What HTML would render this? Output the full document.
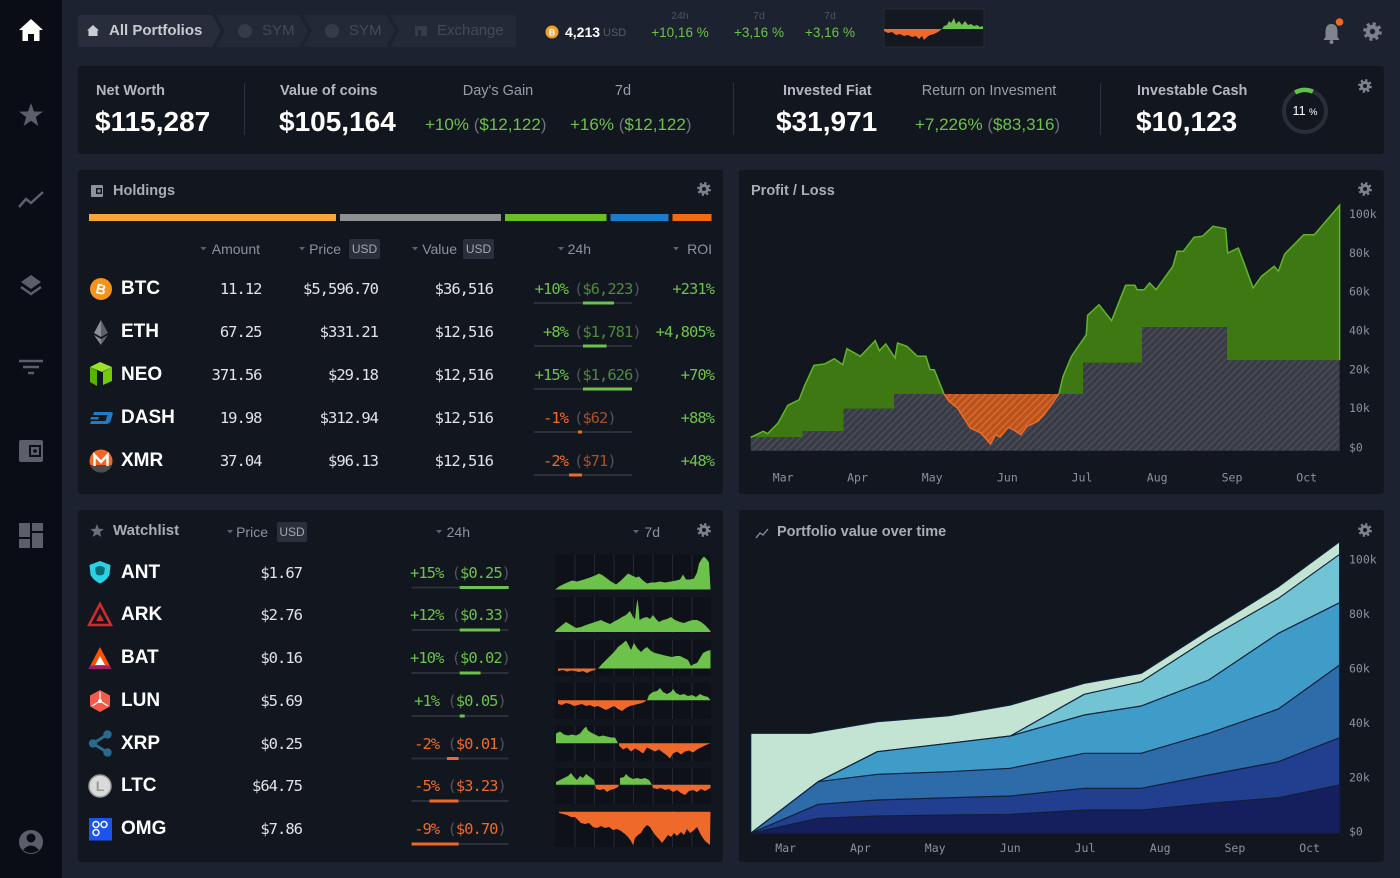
<!DOCTYPE html>
<html><head><meta charset="utf-8">
<style>
*{margin:0;padding:0;box-sizing:border-box}
html,body{width:1400px;height:878px;overflow:hidden;background:#1d2231}
body{position:relative;font-family:"Liberation Sans",sans-serif;color:#fff}
.a{position:absolute;white-space:nowrap}
.pn{position:absolute;background:#12161f;border-radius:3px}
.m{font-family:"DejaVu Sans Mono",monospace;font-size:15.5px;letter-spacing:-1px;line-height:20px;color:#e2e3e7}
.l{font-size:14px;color:#8d919b;line-height:18px}
.tk{font-size:19px;font-weight:bold;line-height:24px;color:#fff}
.h{font-size:14.5px;font-weight:bold;line-height:20px;color:#a9adb5}
.g{color:#6cc24a}.o{color:#ef6a2a}
.gd{color:#4f8a3c}.od{color:#a8502a}.pr{color:#4e525c}.pl{color:#6b6f79}
.big{font-size:28px;font-weight:bold;line-height:32px;color:#fff}
.nl{font-size:14.5px;font-weight:bold;line-height:20px;color:#b4b7bf}
.nr{font-size:14.5px;line-height:20px;color:#9a9ea6}
.nv{font-size:17px;line-height:22px}
.badge{position:absolute;background:#2b2f3b;border-radius:2px;color:#a3a7af;font-size:12px;line-height:20px;text-align:center;height:20px}
.r{text-align:right}.c{text-align:center}
</style></head><body>

<div class="a" style="left:0;top:0;width:62px;height:878px;background:#0a0d15"></div>
<div class="pn" style="left:78px;top:66px;width:1306px;height:88px"></div>
<div class="pn" style="left:78px;top:170px;width:645px;height:324px"></div>
<div class="pn" style="left:739px;top:170px;width:645px;height:324px"></div>
<div class="pn" style="left:78px;top:510px;width:645px;height:352px"></div>
<div class="pn" style="left:739px;top:510px;width:645px;height:352px"></div>

<svg class="a" style="left:0;top:0" width="1400" height="878" viewBox="0 0 1400 878">
<defs>
<pattern id="hg" width="5" height="5" patternUnits="userSpaceOnUse" patternTransform="rotate(45)">
<rect width="5" height="5" fill="#383b45"/><rect width="1.6" height="5" fill="#4a4d57"/></pattern>
<pattern id="ho" width="5" height="5" patternUnits="userSpaceOnUse" patternTransform="rotate(45)">
<rect width="5" height="5" fill="#b9521d"/><rect width="1.6" height="5" fill="#d8692c"/></pattern>
<g id="gear"><circle r="5.3" fill="none" stroke="#7d818b" stroke-width="3.2" stroke-dasharray="2.08 2.08"/><circle r="5" fill="#7d818b"/></g>
</defs>

<!-- sidebar icons -->
<path d="M31 19 L43 30 L39.5 30 L39.5 41 L34 41 L34 34 L28 34 L28 41 L22.5 41 L22.5 30 L19 30 Z" fill="#fff"/>
<polygon points="31,103 34,111.5 43,111.6 35.8,117 38.4,126 31,120.7 23.6,126 26.2,117 19,111.6 28,111.5" fill="#5b5f69"/>
<polyline points="19,207 26,199 31,203 43,192" fill="none" stroke="#5b5f69" stroke-width="2.5"/>
<polygon points="31,275 41,282 31,289 21,282" fill="#5b5f69"/>
<polyline points="21,287 31,294 41,287" fill="none" stroke="#5b5f69" stroke-width="2.5"/>
<line x1="19" y1="361" x2="43" y2="361" stroke="#5b5f69" stroke-width="2.5"/>
<line x1="23" y1="367" x2="39" y2="367" stroke="#5b5f69" stroke-width="2.5"/>
<line x1="28" y1="373" x2="34" y2="373" stroke="#5b5f69" stroke-width="2.5"/>
<rect x="19" y="440" width="24" height="22" rx="2" fill="#5b5f69"/>
<rect x="29" y="445" width="12" height="12" fill="#0a0d15"/><rect x="31" y="447" width="8" height="8" fill="#5b5f69"/><circle cx="35" cy="451" r="1.8" fill="#0a0d15"/>
<rect x="19" y="523" width="11" height="14" fill="#5b5f69"/><rect x="19" y="539" width="11" height="9" fill="#5b5f69"/>
<rect x="32" y="523" width="11" height="8" fill="#5b5f69"/><rect x="32" y="533" width="11" height="15" fill="#5b5f69"/>
<circle cx="31" cy="842" r="12" fill="#5b5f69"/><circle cx="31" cy="838" r="4.5" fill="#0a0d15"/>
<path d="M23 850 Q31 841 39 850 Q31 856 23 850 Z" fill="#0a0d15"/>

<!-- breadcrumb -->
<path d="M81 15 L212 15 L221 31 L212 47 L81 47 Q78 47 78 44 L78 18 Q78 15 81 15 Z" fill="#282d3b"/>
<path d="M216 15 L299 15 L308 31 L299 47 L216 47 L225 31 Z" fill="#242937"/>
<path d="M303 15 L386 15 L395 31 L386 47 L303 47 L312 31 Z" fill="#242937"/>
<path d="M390 15 L513 15 Q516 15 516 18 L516 44 Q516 47 513 47 L390 47 L399 31 Z" fill="#242937"/>
<path d="M93 25 L99 30.5 L97.5 30.5 L97.5 36 L88.5 36 L88.5 30.5 L87 30.5 Z" fill="#c8cbd2"/>
<circle cx="245" cy="31" r="7" fill="#363b48"/>
<circle cx="332" cy="31" r="7" fill="#363b48"/>
<rect x="415" y="26" width="12" height="10" fill="#363b48"/><rect x="418" y="30" width="3" height="6" fill="#242937"/>
<!-- btc small -->
<circle cx="552" cy="32" r="6.5" fill="#f0a030"/>
<text x="552" y="35.5" font-size="9" font-weight="bold" fill="#fff" text-anchor="middle" font-family="Liberation Sans">B</text>
<!-- top sparkline -->
<g transform="translate(884,9)">
<rect width="100" height="38" fill="#141821" stroke="#252a36"/>
<path d="M0,20 L0,22 L4,24 L8,23 L12,26 L16,25 L20,27 L24,26 L28,28 L32,27 L35,30 L38,27 L40,31 L43,28 L46,26 L50,25 L54,23 L58,20 Z" fill="#ef6a2a"/>
<path d="M58,20 L60,17 L63,16 L65,12 L67,14 L70,9 L72,15 L75,12 L78,16 L81,12 L84,16 L87,15 L90,17 L93,16 L96,18 L99,17 L99,20 Z" fill="#6cc24a"/>
</g>
<!-- bell & gear -->
<path d="M1331.5,24 C1326.5,24 1325.5,28 1325.5,32 L1325.5,37 L1323.5,40 L1339.5,40 L1337.5,37 L1337.5,32 C1337.5,28 1336.5,24 1331.5,24 Z" fill="#80848e"/>
<circle cx="1331.5" cy="42" r="2" fill="#80848e"/>
<circle cx="1339.5" cy="22" r="3.8" fill="#f26822"/>
<g transform="translate(1372.5,31.5) scale(1.35)"><use href="#gear"/><circle r="2" fill="#1d2231"/></g>

<!-- net worth panel -->
<rect x="244" y="83" width="1" height="52" fill="#2c313d"/>
<rect x="733" y="83" width="1" height="52" fill="#2c313d"/>
<rect x="1100" y="83" width="1" height="52" fill="#2c313d"/>
<circle cx="1305" cy="111" r="21" fill="none" stroke="#2a2e38" stroke-width="4"/>
<path d="M1295.1,92.5 A21,21 0 0 1 1312.9,91.5" fill="none" stroke="#5fc24a" stroke-width="4.5"/>
<g transform="translate(1365,86)"><use href="#gear"/><circle r="2" fill="#12161f"/></g>

<!-- holdings -->
<rect x="91" y="185" width="12" height="12" rx="1" fill="#8d919b"/><rect x="96" y="188" width="6" height="6" fill="#12161f"/><rect x="97.5" y="189.5" width="3" height="3" fill="#8d919b"/>
<g transform="translate(704,189)"><use href="#gear"/><circle r="2" fill="#12161f"/></g>
<rect x="89" y="214" width="247" height="7" fill="#f7a535"/>
<rect x="340" y="214" width="161" height="7" fill="#8e8f93"/>
<rect x="505" y="214" width="101.5" height="7" fill="#6cbf25"/>
<rect x="610.5" y="214" width="58" height="7" fill="#1a7ccb"/>
<rect x="672.5" y="214" width="39" height="7" fill="#f36a12"/>
<g fill="#5d616b">
<polygon points="200.5,247 206.5,247 203.5,250.5"/>
<polygon points="299,247 305,247 302,250.5"/>
<polygon points="412,247 418,247 415,250.5"/>
<polygon points="558,247 564,247 561,250.5"/>
<polygon points="673,247 679,247 676,250.5"/>
<polygon points="227,530 233,530 230,533.5"/>
<polygon points="436,530 442,530 439,533.5"/>
<polygon points="633,530 639,530 636,533.5"/>
</g>
<!-- holdings underlines -->
<g fill="#2b2f3a">
<rect x="534" y="302" width="98" height="2"/><rect x="534" y="345" width="98" height="2"/>
<rect x="534" y="388" width="98" height="2"/><rect x="534" y="431" width="98" height="2"/>
<rect x="534" y="474" width="98" height="2"/>
</g>
<rect x="583" y="301.5" width="31" height="3" fill="#6cc24a"/>
<rect x="583" y="344.5" width="23.5" height="3" fill="#6cc24a"/>
<rect x="583" y="387.5" width="49" height="3" fill="#6cc24a"/>
<rect x="578" y="430.5" width="4" height="3" fill="#ef6a2a"/>
<rect x="569" y="473.5" width="13" height="3" fill="#ef6a2a"/>
<!-- holdings coin icons -->
<circle cx="101" cy="289" r="11" fill="#f7931a"/>
<text x="101" y="294" font-size="14" font-weight="bold" fill="#fff" text-anchor="middle" font-family="Liberation Sans" transform="rotate(12 101 289)">B</text>
<polygon points="101,320 108,333 101,337" fill="#5f6167"/><polygon points="101,320 94,333 101,337" fill="#8b8e95"/>
<polygon points="94,335 101,339 101,345" fill="#8b8e95"/><polygon points="108,335 101,339 101,345" fill="#5f6167"/>
<polygon points="90,367 100,362 112,367 102,372" fill="#9be22d"/>
<polygon points="90,367 97,370.5 97,386 90,382" fill="#58b300"/>
<polygon points="103,372 112,367 112,381 103,385" fill="#72cc0a"/>
<path d="M94,412 L111,412 Q113.5,412 112.5,415 L110.5,421 Q109.5,424 106,424 L90,424 L91,421 L105.5,421 L107.5,415 L93,415 Z" fill="#1d7bc8"/>
<polygon points="91,417 99,417 98.2,419.5 90.2,419.5" fill="#1d7bc8"/>
<circle cx="101" cy="461" r="11.5" fill="#f26822"/>
<path d="M90.2,465 L111.8,465 A11.5,11.5 0 0 1 90.2,465 Z" fill="#4d4d4d"/>
<polyline points="94.5,466 94.5,455 101,462 107.5,455 107.5,466" fill="none" stroke="#fff" stroke-width="2.4"/>

<!-- profit/loss -->
<g transform="translate(1365,189)"><use href="#gear"/><circle r="2" fill="#12161f"/></g>
<path d="M750.7,450.7 L750.7,437.3 L802.6,437.3 L802.6,431.3 L843.5,431.3 L843.5,408.7 L894.2,408.7 L894.2,394 L1083,394 L1083,362.7 L1142,362.7 L1142,327 L1226.9,327 L1226.9,360.3 L1339.6,360.3 L1339.6,450.7 Z" fill="url(#hg)"/>
<path d="M750.7,437.3 L763.3,431.3 L767.6,433.7 L778.1,423 L787.8,405.3 L799.2,399.7 L804.3,386.3 L814,365.3 L824.5,364 L834.3,358.7 L842.7,364.7 L846.9,348.7 L860.4,356.3 L875.2,340.7 L879.4,350.7 L885.8,344 L895,358 L897.6,343 L906.9,346.3 L917.4,356.3 L925.9,356.3 L930.1,369.7 L934.3,369.7 L944,394 L894.2,394 L894.2,408.7 L843.5,408.7 L843.5,431.3 L802.6,431.3 L802.6,437.3 Z" fill="#3d7813"/>
<polyline points="750.7,437.3 763.3,431.3 767.6,433.7 778.1,423 787.8,405.3 799.2,399.7 804.3,386.3 814,365.3 824.5,364 834.3,358.7 842.7,364.7 846.9,348.7 860.4,356.3 875.2,340.7 879.4,350.7 885.8,344 895,358 897.6,343 906.9,346.3 917.4,356.3 925.9,356.3 930.1,369.7 934.3,369.7 944,394" fill="none" stroke="#62b52a" stroke-width="1.5"/>
<path d="M944,394 L949.1,401.3 L957.5,408 L970.2,428 L980.8,433 L990.5,444 L995.5,434.7 L1000,437 L1008.2,427.3 L1014,430 L1020.9,434.7 L1027.2,426.3 L1037.8,421.3 L1044.1,414.7 L1058.9,394 Z" fill="url(#ho)"/>
<polyline points="944,394 949.1,401.3 957.5,408 970.2,428 980.8,433 990.5,444 995.5,434.7 1000,437 1008.2,427.3 1014,430 1020.9,434.7 1027.2,426.3 1037.8,421.3 1044.1,414.7 1058.9,394" fill="none" stroke="#ee6b28" stroke-width="1.5"/>
<path d="M1058.9,394 L1063.1,376.3 L1071.5,356.3 L1086.3,334.7 L1087.6,315.3 L1099,304.7 L1111.6,320.7 L1125.6,285.3 L1134.9,285.3 L1137,289.7 L1144.1,289.7 L1149.6,283 L1156,289.7 L1164.4,278 L1172.9,266.3 L1177.1,251.3 L1183.4,251.3 L1194,237.3 L1202.4,236.3 L1213,226.3 L1225.6,228.7 L1227.7,253 L1238.3,248 L1244.6,264.7 L1253.1,288 L1261.5,276.3 L1274.2,266.3 L1278.4,271.3 L1284.7,254 L1303.7,234.7 L1314.3,234.7 L1339.6,205.3 L1339.6,360.3 L1226.9,360.3 L1226.9,327 L1142,327 L1142,362.7 L1083,362.7 L1083,394 Z" fill="#3d7813"/>
<polyline points="1058.9,394 1063.1,376.3 1071.5,356.3 1086.3,334.7 1087.6,315.3 1099,304.7 1111.6,320.7 1125.6,285.3 1134.9,285.3 1137,289.7 1144.1,289.7 1149.6,283 1156,289.7 1164.4,278 1172.9,266.3 1177.1,251.3 1183.4,251.3 1194,237.3 1202.4,236.3 1213,226.3 1225.6,228.7 1227.7,253 1238.3,248 1244.6,264.7 1253.1,288 1261.5,276.3 1274.2,266.3 1278.4,271.3 1284.7,254 1303.7,234.7 1314.3,234.7 1339.6,205.3 1339.6,360.3" fill="none" stroke="#62b52a" stroke-width="1.5"/>
<g font-family="DejaVu Sans Mono" font-size="11.5" fill="#8d919b">
<text x="1349" y="218">100k</text><text x="1349" y="257">80k</text><text x="1349" y="295.7">60k</text>
<text x="1349" y="334.7">40k</text><text x="1349" y="373.7">20k</text><text x="1349" y="412">10k</text><text x="1349" y="451.3">$0</text>
<g text-anchor="middle">
<text x="783.2" y="481.5">Mar</text><text x="857.5" y="481.5">Apr</text><text x="932.2" y="481.5">May</text><text x="1007.4" y="481.5">Jun</text>
<text x="1082" y="481.5">Jul</text><text x="1157.2" y="481.5">Aug</text><text x="1232" y="481.5">Sep</text><text x="1306.7" y="481.5">Oct</text>
</g>
<text x="1349" y="563.3">100k</text><text x="1349" y="618">80k</text><text x="1349" y="672.7">60k</text>
<text x="1349" y="727">40k</text><text x="1349" y="781.7">20k</text><text x="1349" y="835.7">$0</text>
<g text-anchor="middle">
<text x="785.7" y="852">Mar</text><text x="860.4" y="852">Apr</text><text x="935.2" y="852">May</text><text x="1010.3" y="852">Jun</text>
<text x="1085" y="852">Jul</text><text x="1160.2" y="852">Aug</text><text x="1234.9" y="852">Sep</text><text x="1309.6" y="852">Oct</text>
</g>
</g>

<!-- watchlist -->
<polygon points="97,524 98.8,528.8 103.8,529 99.9,532.1 101.3,537 97,534.2 92.7,537 94.1,532.1 90.2,529 95.2,528.8" fill="#6b6f79"/>
<g transform="translate(704,530)"><use href="#gear"/><circle r="2" fill="#12161f"/></g>
<g fill="#2b2f3a">
<rect x="411.6" y="586.5" width="97" height="2"/><rect x="411.6" y="629" width="97" height="2"/>
<rect x="411.6" y="672" width="97" height="2"/><rect x="411.6" y="715" width="97" height="2"/>
<rect x="411.6" y="757.5" width="97" height="2"/><rect x="411.6" y="800" width="97" height="2"/>
<rect x="411.6" y="843" width="97" height="2"/>
</g>
<rect x="459.7" y="586" width="49" height="3" fill="#6cc24a"/>
<rect x="459.7" y="628.5" width="40.3" height="3" fill="#6cc24a"/>
<rect x="459.7" y="671.5" width="20.8" height="3" fill="#6cc24a"/>
<rect x="459.7" y="714.5" width="5" height="3" fill="#6cc24a"/>
<rect x="447" y="757" width="11.5" height="3" fill="#ef6a2a"/>
<rect x="429.5" y="799.5" width="29" height="3" fill="#ef6a2a"/>
<rect x="411.6" y="842.5" width="47" height="3" fill="#ef6a2a"/>
<!-- watchlist icons -->
<path d="M100,561 L110.5,565 L109.5,575 Q106,581 100,583.5 Q94,581 90.5,575 L89.5,565 Z" fill="#29d2e4"/>
<path d="M95,568 Q100,564 105,568 L104,574 Q100,577 96,574 Z" fill="#0f6a78"/>
<polygon points="100,604 111,625 89,625" fill="none" stroke="#d32a2f" stroke-width="2.5"/>
<polygon points="100,614 104,621 96,621" fill="#d32a2f"/>
<polygon points="100,647 111.5,669 88.5,669" fill="#ff5000"/>
<polygon points="88.5,669 111.5,669 109.8,665.5 90.2,665.5" fill="#9e1f63"/>
<polygon points="100,656 105,665 95,665" fill="#fff"/>
<polygon points="100,690 110,695.5 110,706.5 100,712 90,706.5 90,695.5" fill="#f55b4b"/>
<g stroke="#fff" stroke-width="1.2" fill="none"><line x1="100" y1="701" x2="100" y2="692"/><line x1="100" y1="701" x2="92" y2="706"/><line x1="100" y1="701" x2="108" y2="706"/></g>
<circle cx="100" cy="701" r="2" fill="#fff"/>
<g fill="#2b6a8c"><circle cx="107.5" cy="734.5" r="4.2"/><circle cx="93" cy="743.5" r="4.2"/><circle cx="107.5" cy="752.5" r="4.2"/></g>
<g stroke="#2b6a8c" stroke-width="3"><line x1="107.5" y1="734.5" x2="93" y2="743.5"/><line x1="93" y1="743.5" x2="107.5" y2="752.5"/></g>
<circle cx="100" cy="786" r="11" fill="#dadada" stroke="#9a9a9a" stroke-width="1.5"/>
<text x="100" y="791" font-size="14" font-weight="bold" fill="#9a9a9a" text-anchor="middle" font-family="Liberation Sans">L</text>
<rect x="89" y="818" width="23" height="22.5" fill="#1a53f0"/>
<g fill="none" stroke="#fff" stroke-width="1.5"><circle cx="96" cy="824.5" r="3"/><circle cx="104" cy="824.5" r="3"/><circle cx="96" cy="832.5" r="3"/></g>

<!-- watchlist sparklines -->
<g id="sgrid">
</g>
<g transform="translate(555,554.5)">
<rect width="156" height="36" fill="#0e1118"/><g stroke="#242833"><line x1="20" y1="0" x2="20" y2="36"/><line x1="39.5" y1="0" x2="39.5" y2="36"/><line x1="59" y1="0" x2="59" y2="36"/><line x1="78.5" y1="0" x2="78.5" y2="36"/><line x1="98" y1="0" x2="98" y2="36"/><line x1="117.5" y1="0" x2="117.5" y2="36"/><line x1="137" y1="0" x2="137" y2="36"/></g>
<path d="M0,35 L4,32 L10,29 L17,26 L22,27 L29,25 L35,23 L40,21 L44,19 L48,21 L52,24 L56,27 L61,30 L66,26 L70,22 L73,19 L77,21 L81,23 L84,22 L88,26 L92,29 L96,28 L100,28 L105,27 L110,28 L116,27 L121,26 L125,25 L128,20 L131,25 L135,25 L139,24 L142,18 L144,9 L147,4 L149,2 L152,5 L154,8 L155.5,34 L155.5,35 Z" fill="#6cc24a"/>
</g>
<g transform="translate(555,597)">
<rect width="156" height="36" fill="#0e1118"/><g stroke="#242833"><line x1="20" y1="0" x2="20" y2="36"/><line x1="39.5" y1="0" x2="39.5" y2="36"/><line x1="59" y1="0" x2="59" y2="36"/><line x1="78.5" y1="0" x2="78.5" y2="36"/><line x1="98" y1="0" x2="98" y2="36"/><line x1="117.5" y1="0" x2="117.5" y2="36"/><line x1="137" y1="0" x2="137" y2="36"/></g>
<path d="M0,35 L1,33 L6,29 L11,25 L16,28 L21,31 L26,30 L31,28 L34,27 L40,25 L46,23 L50,25 L55,27 L60,24 L64,22 L67,20 L71,18 L75,14 L78,20 L80,22 L81.5,8 L82.5,2 L83.5,10 L84.6,23 L88,21 L92,20 L95,22 L98,18 L101,22 L104,25 L108,23 L112,22 L116,20 L120,23 L125,25 L129,26 L134,24 L138,23 L142,23 L146,25 L150,28 L155.5,34 L155.5,35 Z" fill="#6cc24a"/>
</g>
<g transform="translate(555,640)">
<rect width="156" height="36" fill="#0e1118"/><g stroke="#242833"><line x1="20" y1="0" x2="20" y2="36"/><line x1="39.5" y1="0" x2="39.5" y2="36"/><line x1="59" y1="0" x2="59" y2="36"/><line x1="78.5" y1="0" x2="78.5" y2="36"/><line x1="98" y1="0" x2="98" y2="36"/><line x1="117.5" y1="0" x2="117.5" y2="36"/><line x1="137" y1="0" x2="137" y2="36"/></g>
<path d="M3,28.5 L3,31 L8,30 L12,31.5 L16,30.5 L20,31 L24,32 L28,31 L32,33 L36,31 L40,30 L41,28.5 Z" fill="#ef6a2a"/>
<path d="M43,28.5 L47,24 L51,20 L55,16 L59,12 L63,7 L67,4 L71,0.5 L74,6 L76,10 L79,3 L82,8 L86,12 L89,9 L92,7 L96,11 L100,13 L104,14 L108,15 L112,16 L117,17 L121,16 L125,16 L129,18 L133,20 L136,26 L139,24 L142,23 L145,18 L148,13 L152,11 L155.5,10 L155.5,28.5 Z" fill="#6cc24a"/>
</g>
<g transform="translate(555,683)">
<rect width="156" height="36" fill="#0e1118"/><g stroke="#242833"><line x1="20" y1="0" x2="20" y2="36"/><line x1="39.5" y1="0" x2="39.5" y2="36"/><line x1="59" y1="0" x2="59" y2="36"/><line x1="78.5" y1="0" x2="78.5" y2="36"/><line x1="98" y1="0" x2="98" y2="36"/><line x1="117.5" y1="0" x2="117.5" y2="36"/><line x1="137" y1="0" x2="137" y2="36"/></g>
<path d="M3,17.3 L3,21 L7,22 L11,20 L15,21 L19,23 L23,22 L27,21 L31,23 L35,22 L39,24 L43,23 L47,25 L51,27 L55,25 L59,23 L63,26 L67,28 L71,25 L75,23 L79,22 L83,21 L87,20 L91,18 L91,17.3 Z" fill="#ef6a2a"/>
<path d="M92,17.3 L94,12 L98,9 L102,8 L105,5 L108,9 L112,11 L116,9 L118,6 L121,10 L125,12 L129,11 L133,13 L137,12 L141,14 L145,11 L149,13 L153,14 L155.5,17.3 Z" fill="#6cc24a"/>
</g>
<g transform="translate(555,725.5)">
<rect width="156" height="36" fill="#0e1118"/><g stroke="#242833"><line x1="20" y1="0" x2="20" y2="36"/><line x1="39.5" y1="0" x2="39.5" y2="36"/><line x1="59" y1="0" x2="59" y2="36"/><line x1="78.5" y1="0" x2="78.5" y2="36"/><line x1="98" y1="0" x2="98" y2="36"/><line x1="117.5" y1="0" x2="117.5" y2="36"/><line x1="137" y1="0" x2="137" y2="36"/></g>
<path d="M1,17.7 L1,8 L5,6 L9,9 L13,10 L17,9 L21,10 L25,8 L29,3 L31,1 L33,5 L36,7 L40,9 L44,11 L48,10 L52,11 L56,12 L60,12 L63,17.7 Z" fill="#6cc24a"/>
<path d="M64,17.7 L64,20 L68,24 L72,22 L76,26 L80,23 L84,25 L88,28 L92,22 L96,24 L100,26 L104,24 L108,27 L112,30 L115,33 L118,28 L122,26 L126,29 L130,26 L134,25 L138,27 L142,24 L146,22 L150,20 L155.5,17.7 Z" fill="#ef6a2a"/>
</g>
<g transform="translate(555,768)">
<rect width="156" height="36" fill="#0e1118"/><g stroke="#242833"><line x1="20" y1="0" x2="20" y2="36"/><line x1="39.5" y1="0" x2="39.5" y2="36"/><line x1="59" y1="0" x2="59" y2="36"/><line x1="78.5" y1="0" x2="78.5" y2="36"/><line x1="98" y1="0" x2="98" y2="36"/><line x1="117.5" y1="0" x2="117.5" y2="36"/><line x1="137" y1="0" x2="137" y2="36"/></g>
<path d="M1,16.7 L1,14 L5,12 L9,10 L13,8 L16,5 L19,9 L22,12 L25,8 L28,10 L31,6 L35,9 L39,12 L40,16.7 Z" fill="#6cc24a"/>
<path d="M40,16.7 L41,21 L45,22 L49,21 L52,24 L55,22 L59,21 L63,19 L64,16.7 Z" fill="#ef6a2a"/>
<path d="M65,16.7 L65,10 L69,9 L71,6 L74,9 L78,11 L82,10 L86,11 L90,10 L94,12 L97,16.7 Z" fill="#6cc24a"/>
<path d="M97,16.7 L98,20 L102,21 L106,20 L110,22 L114,21 L118,24 L122,22 L126,25 L130,27 L134,23 L138,22 L142,24 L146,21 L150,23 L155.5,20 L155.5,16.7 Z" fill="#ef6a2a"/>
</g>
<g transform="translate(555,811)">
<rect width="156" height="36" fill="#0e1118"/><g stroke="#242833"><line x1="20" y1="0" x2="20" y2="36"/><line x1="39.5" y1="0" x2="39.5" y2="36"/><line x1="59" y1="0" x2="59" y2="36"/><line x1="78.5" y1="0" x2="78.5" y2="36"/><line x1="98" y1="0" x2="98" y2="36"/><line x1="117.5" y1="0" x2="117.5" y2="36"/><line x1="137" y1="0" x2="137" y2="36"/></g>
<path d="M4,0.7 L4,2 L8,3 L12,4 L16,6 L20,6 L23,9 L26,12 L30,13 L34,12 L38,16 L42,17 L46,15 L50,17 L54,16 L58,19 L62,18 L66,20 L70,23 L73,26 L76,30 L78,34 L80,27 L83,24 L86,22 L89,17 L92,14 L95,16 L98,21 L101,25 L104,28 L107,32 L110,28 L113,24 L116,26 L119,22 L122,25 L126,21 L129,24 L132,18 L135,22 L138,20 L142,16 L146,24 L150,30 L155,34 L155.5,0.7 Z" fill="#ef6a2a"/>
</g>

<!-- portfolio chart -->
<polyline points="756,538 760,533 763,535 768,529" fill="none" stroke="#8d919b" stroke-width="1.3"/>
<g transform="translate(1365,530)"><use href="#gear"/><circle r="2" fill="#12161f"/></g>
<g stroke="#10203a" stroke-width="1.2" stroke-linejoin="round">
<path d="M750.7,833.3 L750.7,733.3 L809.8,733.3 L877.3,721.7 L949.1,715.7 L1010.3,705 L1084.2,683.3 L1141.2,673.3 L1208.7,630 L1278.4,586.7 L1339.6,541.7 L1339.6,833.3 Z" fill="#c3e3d3"/>
<path d="M750.7,833.3 L818.2,781.7 L877.3,751.7 L949.1,743.3 L1010.3,736 L1084.2,694.3 L1141.2,681.7 L1208.7,638.3 L1278.4,598.3 L1339.6,554.3 L1339.6,833.3 Z" fill="#72c4d4"/>
<path d="M750.7,833.3 L818.2,781.7 L877.3,751.7 L949.1,743.3 L1010.3,736 L1084.2,715 L1141.2,706 L1208.7,680 L1278.4,633.3 L1339.6,602.7 L1339.6,833.3 Z" fill="#3f9cc8"/>
<path d="M750.7,833.3 L818.2,781.7 L877.3,774.3 L949.1,771.7 L1010.3,768.3 L1084.2,753.3 L1141.2,753.3 L1208.7,733.3 L1278.4,709 L1339.6,665 L1339.6,833.3 Z" fill="#2e6ba9"/>
<path d="M750.7,833.3 L818.2,804.3 L877.3,800 L949.1,797.7 L1010.3,796 L1084.2,788.3 L1141.2,788.3 L1208.7,775 L1278.4,761.7 L1339.6,737.7 L1339.6,833.3 Z" fill="#223e8e"/>
<path d="M750.7,833.3 L818.2,818.3 L877.3,816 L949.1,815 L1010.3,814.3 L1084.2,810 L1141.2,810 L1208.7,803.3 L1278.4,797.7 L1339.6,785 L1339.6,833.3 Z" fill="#161f5e"/>
</g>
</svg>

<!-- top bar text -->
<div class="a" style="left:109px;top:21px;font-size:15px;font-weight:bold;line-height:20px;color:#c8cbd2">All Portfolios</div>
<div class="a" style="left:262px;top:21px;font-size:15px;line-height:20px;color:#444957">SYM</div>
<div class="a" style="left:349px;top:21px;font-size:15px;line-height:20px;color:#444957">SYM</div>
<div class="a" style="left:437px;top:21px;font-size:15px;line-height:20px;color:#444957">Exchange</div>
<div class="a" style="left:565px;top:23px;font-size:14px;font-weight:bold;line-height:18px;color:#fff">4,213</div>
<div class="a" style="left:603px;top:26px;font-size:11px;line-height:14px;color:#555a67">USD</div>
<div class="a c" style="left:640px;width:80px;top:9px;font-size:10.5px;line-height:14px;color:#4e5361">24h</div>
<div class="a c g" style="left:640px;width:80px;top:24px;font-size:13.5px;line-height:18px">+10,16 %</div>
<div class="a c" style="left:719px;width:80px;top:9px;font-size:10.5px;line-height:14px;color:#4e5361">7d</div>
<div class="a c g" style="left:719px;width:80px;top:24px;font-size:13.5px;line-height:18px">+3,16 %</div>
<div class="a c" style="left:790px;width:80px;top:9px;font-size:10.5px;line-height:14px;color:#4e5361">7d</div>
<div class="a c g" style="left:790px;width:80px;top:24px;font-size:13.5px;line-height:18px">+3,16 %</div>

<!-- net worth panel text -->
<div class="a nl" style="left:96px;top:81px">Net Worth</div>
<div class="a big" style="left:95px;top:106px">$115,287</div>
<div class="a nl" style="left:280px;top:81px">Value of coins</div>
<div class="a big" style="left:279px;top:106px">$105,164</div>
<div class="a nr c" style="left:438px;width:120px;top:81px">Day's Gain</div>
<div class="a nv" style="left:425px;top:114px"><span class="g">+10%</span> <span class="pl">(</span><span class="g">$12,122</span><span class="pl">)</span></div>
<div class="a nr c" style="left:583px;width:80px;top:81px">7d</div>
<div class="a nv" style="left:570px;top:114px"><span class="g">+16%</span> <span class="pl">(</span><span class="g">$12,122</span><span class="pl">)</span></div>
<div class="a nl" style="left:783px;top:81px">Invested Fiat</div>
<div class="a big" style="left:776px;top:106px">$31,971</div>
<div class="a nr c" style="left:909px;width:160px;top:81px">Return on Invesment</div>
<div class="a nv" style="left:915px;top:114px"><span class="g">+7,226%</span> <span class="pl">(</span><span class="g">$83,316</span><span class="pl">)</span></div>
<div class="a nl" style="left:1137px;top:81px">Investable Cash</div>
<div class="a big" style="left:1136px;top:106px">$10,123</div>
<div class="a c" style="left:1285px;width:40px;top:103px;font-size:12.5px;line-height:16px;color:#fff">11 <span style="font-size:9.5px">%</span></div>

<!-- holdings text -->
<div class="a h" style="left:113px;top:181px">Holdings</div>
<div class="a l r" style="left:160px;width:100px;top:240px">Amount</div>
<div class="a l r" style="left:241px;width:100px;top:240px">Price</div>
<div class="badge" style="left:349px;top:239px;width:31px">USD</div>
<div class="a l r" style="left:357px;width:100px;top:240px">Value</div>
<div class="badge" style="left:463px;top:239px;width:31px">USD</div>
<div class="a l r" style="left:491px;width:100px;top:240px">24h</div>
<div class="a l r" style="left:612px;width:100px;top:240px">ROI</div>

<div class="a tk" style="left:121px;top:277px">BTC</div>
<div class="a tk" style="left:121px;top:320px">ETH</div>
<div class="a tk" style="left:121px;top:363px">NEO</div>
<div class="a tk" style="left:121px;top:406px">DASH</div>
<div class="a tk" style="left:121px;top:449px">XMR</div>

<div class="a m r" style="left:160px;width:101.5px;top:279px">11.12</div>
<div class="a m r" style="left:160px;width:101.5px;top:322px">67.25</div>
<div class="a m r" style="left:160px;width:101.5px;top:365px">371.56</div>
<div class="a m r" style="left:160px;width:101.5px;top:408px">19.98</div>
<div class="a m r" style="left:160px;width:101.5px;top:451px">37.04</div>

<div class="a m r" style="left:258px;width:120px;top:279px">$5,596.70</div>
<div class="a m r" style="left:258px;width:120px;top:322px">$331.21</div>
<div class="a m r" style="left:258px;width:120px;top:365px">$29.18</div>
<div class="a m r" style="left:258px;width:120px;top:408px">$312.94</div>
<div class="a m r" style="left:258px;width:120px;top:451px">$96.13</div>

<div class="a m r" style="left:373px;width:120px;top:279px">$36,516</div>
<div class="a m r" style="left:373px;width:120px;top:322px">$12,516</div>
<div class="a m r" style="left:373px;width:120px;top:365px">$12,516</div>
<div class="a m r" style="left:373px;width:120px;top:408px">$12,516</div>
<div class="a m r" style="left:373px;width:120px;top:451px">$12,516</div>

<div class="a m r g" style="left:467px;width:101px;top:279px">+10%</div>
<div class="a m r g" style="left:467px;width:101px;top:322px">+8%</div>
<div class="a m r g" style="left:467px;width:101px;top:365px">+15%</div>
<div class="a m r o" style="left:467px;width:101px;top:408px">-1%</div>
<div class="a m r o" style="left:467px;width:101px;top:451px">-2%</div>
<div class="a m" style="left:574px;top:279px"><span class="pr">(</span><span class="gd">$6,223</span><span class="pr">)</span></div>
<div class="a m" style="left:574px;top:322px"><span class="pr">(</span><span class="gd">$1,781</span><span class="pr">)</span></div>
<div class="a m" style="left:574px;top:365px"><span class="pr">(</span><span class="gd">$1,626</span><span class="pr">)</span></div>
<div class="a m" style="left:574px;top:408px"><span class="pr">(</span><span class="od">$62</span><span class="pr">)</span></div>
<div class="a m" style="left:574px;top:451px"><span class="pr">(</span><span class="od">$71</span><span class="pr">)</span></div>

<div class="a m r g" style="left:593px;width:121px;top:279px">+231%</div>
<div class="a m r g" style="left:593px;width:121px;top:322px">+4,805%</div>
<div class="a m r g" style="left:593px;width:121px;top:365px">+70%</div>
<div class="a m r g" style="left:593px;width:121px;top:408px">+88%</div>
<div class="a m r g" style="left:593px;width:121px;top:451px">+48%</div>

<!-- P/L + portfolio titles -->
<div class="a h" style="left:751px;top:181px">Profit / Loss</div>
<div class="a h" style="left:777px;top:522px">Portfolio value over time</div>

<!-- watchlist text -->
<div class="a h" style="left:113px;top:521px;font-size:15px">Watchlist</div>
<div class="a l r" style="left:168px;width:100px;top:523px">Price</div>
<div class="badge" style="left:277px;top:522px;width:30px">USD</div>
<div class="a l r" style="left:370px;width:100px;top:523px">24h</div>
<div class="a l r" style="left:560px;width:100px;top:523px">7d</div>

<div class="a tk" style="left:121px;top:560.5px">ANT</div>
<div class="a tk" style="left:121px;top:603px">ARK</div>
<div class="a tk" style="left:121px;top:646px">BAT</div>
<div class="a tk" style="left:121px;top:689px">LUN</div>
<div class="a tk" style="left:121px;top:731.5px">XRP</div>
<div class="a tk" style="left:121px;top:774px">LTC</div>
<div class="a tk" style="left:121px;top:817px">OMG</div>

<div class="a m r" style="left:200px;width:102px;top:562.5px">$1.67</div>
<div class="a m r" style="left:200px;width:102px;top:605px">$2.76</div>
<div class="a m r" style="left:200px;width:102px;top:648px">$0.16</div>
<div class="a m r" style="left:200px;width:102px;top:691px">$5.69</div>
<div class="a m r" style="left:200px;width:102px;top:733.5px">$0.25</div>
<div class="a m r" style="left:200px;width:102px;top:776px">$64.75</div>
<div class="a m r" style="left:200px;width:102px;top:819px">$7.86</div>

<div class="a m c" style="left:399px;width:122px;top:562.5px"><span class="g">+15%</span> <span class="pr">(</span><span class="g">$0.25</span><span class="pr">)</span></div>
<div class="a m c" style="left:399px;width:122px;top:605px"><span class="g">+12%</span> <span class="pr">(</span><span class="g">$0.33</span><span class="pr">)</span></div>
<div class="a m c" style="left:399px;width:122px;top:648px"><span class="g">+10%</span> <span class="pr">(</span><span class="g">$0.02</span><span class="pr">)</span></div>
<div class="a m c" style="left:399px;width:122px;top:691px"><span class="g">+1%</span> <span class="pr">(</span><span class="g">$0.05</span><span class="pr">)</span></div>
<div class="a m c" style="left:399px;width:122px;top:733.5px"><span class="o">-2%</span> <span class="pr">(</span><span class="o">$0.01</span><span class="pr">)</span></div>
<div class="a m c" style="left:399px;width:122px;top:776px"><span class="o">-5%</span> <span class="pr">(</span><span class="o">$3.23</span><span class="pr">)</span></div>
<div class="a m c" style="left:399px;width:122px;top:819px"><span class="o">-9%</span> <span class="pr">(</span><span class="o">$0.70</span><span class="pr">)</span></div>

</body></html>
